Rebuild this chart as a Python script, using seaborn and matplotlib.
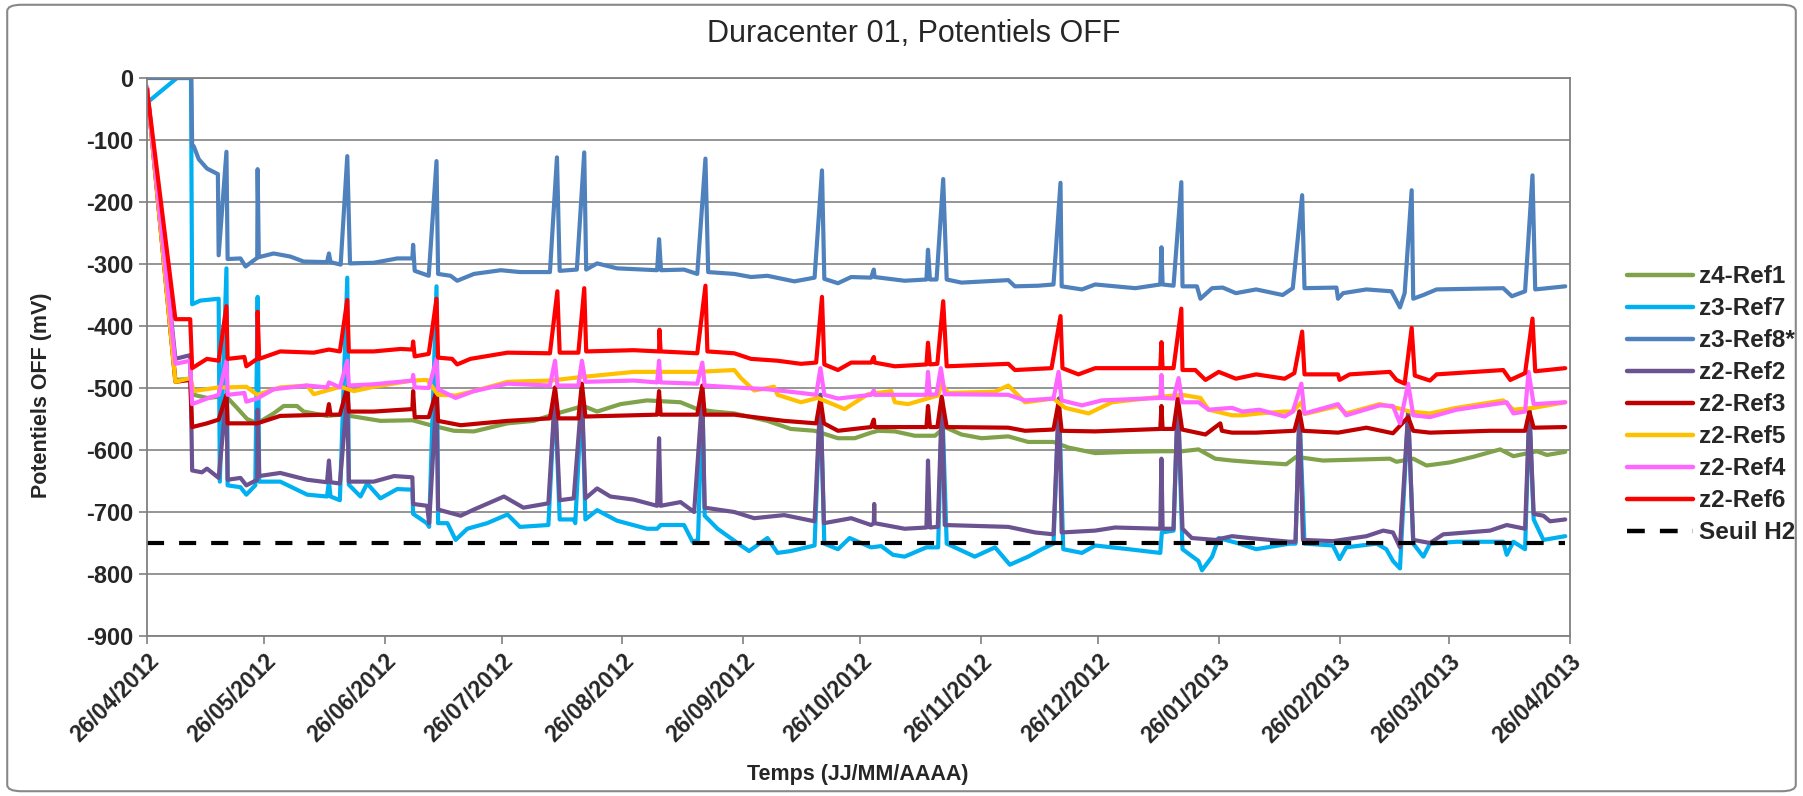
import pandas as pd
import numpy as np
import matplotlib
matplotlib.use('Agg')
import matplotlib.pyplot as plt
import matplotlib.dates as mdates
from matplotlib.lines import Line2D
from matplotlib.patches import FancyBboxPatch
import seaborn as sns

start_date = '2012-04-26'
end_date = '2013-04-26'

# days since 26/04/2012 and OFF potentials (mV)
ref1_days = [0, 7.3, 11.1, 12.0, 15.4, 18.8, 20.7, 23.1, 25.7, 28.3, 32.5, 35.1, 38.5, 40.2, 46.2, 49.7, 53.1, 59.9,
             68.1, 72.8, 78.8, 83.9, 92.5, 99.2, 105.2, 112.0, 115.5, 121.5, 128.3, 136.9, 141.2, 145.5, 150.7, 159.2,
             165.2, 171.3, 177.3, 181.6, 185.8, 187.6, 191.9, 197.0, 202.2, 204.7, 209.0, 214.2, 221.0, 226.1, 232.6,
             236.4, 243.3, 251.9, 260.4, 265.6, 269.8, 274.1, 278.4, 284.6, 292.3, 294.9, 301.7, 318.9, 320.6, 324.9,
             328.3, 334.3, 340.3, 347.2, 350.6, 356.6, 359.2, 363.9]
ref1_mv = [-15, -487, -485, -511, -516, -514, -516, -532, -550, -557, -541, -529, -529, -538, -545, -543, -546, -553,
           -552, -560, -569, -570, -557, -553, -541, -529, -538, -526, -520, -523, -534, -538, -541, -553,
           -566, -569, -581, -581, -572, -569, -570, -577, -577, -563, -575, -581, -578, -587, -587,
           -596, -605, -603, -602, -602, -599, -614, -617, -620, -623, -611, -617, -614, -619, -614,
           -625, -620, -611, -599, -610, -602, -608, -603]

ref7_days = [0, 7.7, 11.3, 11.6, 13.7, 18.4, 18.7, 20.4, 20.7, 24.0, 25.5, 27.8, 28.4, 28.8, 34.2, 41.1, 46.2, 46.7,
             47.1, 49.5, 51.4, 51.8, 54.8, 56.5, 59.9, 64.2, 68.1, 68.3, 71.8, 72.4, 74.3, 74.7, 77.1, 79.2, 82.2,
             87.3, 92.5, 95.7, 103.0, 104.7, 105.9, 109.5, 109.9, 111.6, 112.5, 115.5, 120.6, 128.3, 130.9, 131.8,
             137.8, 140.0, 141.4, 142.5, 143.1, 146.4, 152.4, 154.5, 159.2, 161.8, 165.2, 171.3, 172.8, 173.8, 177.3,
             180.3, 185.8, 188.4, 191.4, 194.4, 200.0, 201.3, 203.0, 204.0, 205.2, 212.4, 217.6, 221.4, 226.1, 229.6,
             232.6, 234.0, 235.1, 239.9, 243.3, 251.9, 260.0, 260.4, 263.4, 264.5, 265.7, 269.8, 270.7, 273.3, 275.0,
             280.3, 284.6, 293.2, 294.7, 295.7, 297.0, 304.3, 306.0, 307.7, 315.5, 318.0, 319.7, 321.5, 323.6, 324.9,
             327.5, 329.2, 336.0, 348.0, 348.9, 350.6, 353.6, 354.7, 355.8, 358.3, 363.9]
ref7_mv = [-40, 0, 0, -365, -359, -356, -651, -307, -657, -660, -672, -657, -353, -651, -651, -672, -675, -651,
           -675, -681, -322, -656, -675, -654, -678, -663, -664, -703, -718, -724, -336, -718, -718, -745, -727,
           -718, -704, -724, -721, -511, -712, -712, -718, -508, -712, -697, -714, -727, -727, -721,
           -721, -748, -745, -511, -706, -727, -754, -763, -742, -766, -763, -754, -511, -751, -760,
           -742, -757, -755, -769, -772, -757, -757, -757, -517, -751, -772, -757, -785, -772, -760,
           -751, -517, -760, -766, -754, -760, -766, -733, -730, -517, -760, -779, -794, -772, -742,
           -751, -760, -751, -751, -538, -751, -754, -776, -757, -751, -760, -779, -791, -538, -751,
           -772, -751, -748, -748, -769, -748, -760, -535, -712, -745, -739]

ref8_days = [0, 11.4, 11.6, 12.0, 13.3, 15.4, 18.2, 18.4, 20.4, 20.7, 24.0, 25.3, 28.3, 28.4, 28.7, 32.5, 36.8,
             40.2, 46.2, 46.7, 47.1, 49.7, 51.4, 52.1, 58.2, 64.2, 68.1, 68.3, 68.7, 72.3, 74.3, 74.7, 77.9, 79.6,
             83.9, 90.8, 95.7, 103.4, 105.2, 105.9, 110.3, 112.2, 112.7, 115.5, 120.6, 130.9, 131.4, 131.9, 137.8,
             141.2, 143.3, 144.0, 150.7, 155.0, 159.2, 166.1, 171.3, 173.2, 173.8, 177.3, 180.7, 185.8, 186.5,
             186.7, 194.4, 200.0, 200.4, 200.9, 202.6, 204.3, 205.2, 209.0, 221.0, 222.7, 228.7, 232.6, 234.4,
             234.7, 239.9, 243.3, 253.6, 260.0, 260.3, 260.6, 263.4, 265.4, 265.7, 269.4, 270.3, 273.3, 276.0,
             279.4, 284.6, 291.4, 294.0, 296.4, 297.0, 305.2, 305.6, 306.9, 312.9, 319.3, 321.5, 322.7, 324.5,
             324.9, 327.5, 330.9, 348.0, 350.2, 353.6, 355.5, 356.2, 363.9]
ref8_mv = [0, 0, -110, -110, -131, -146, -155, -286, -119, -292, -291, -304, -290, -147, -289, -283, -288,
           -296, -297, -283, -297, -301, -126, -299, -298, -291, -291, -269, -311, -319, -134, -316, -319, -327,
           -316, -310, -313, -313, -128, -311, -309, -120, -309, -299, -307, -310, -260, -310, -309,
           -316, -130, -313, -316, -321, -319, -328, -322, -149, -324, -331, -321, -322, -309,
           -321, -327, -325, -277, -325, -325, -163, -325, -330, -326, -336, -335, -333, -169,
           -336, -341, -333, -339, -333, -273, -333, -335, -168, -336, -336, -356, -339, -338,
           -347, -341, -350, -339, -189, -339, -338, -356, -347, -341, -344, -370, -347, -181,
           -356, -350, -341, -339, -352, -344, -157, -341, -336]

ref2_days = [0, 7.3, 11.1, 11.6, 14.1, 15.4, 18.4, 20.4, 20.7, 24.0, 25.5, 28.3, 28.4, 28.8, 34.2, 41.1, 46.2,
             46.7, 47.1, 49.5, 51.4, 51.8, 58.2, 63.4, 68.1, 68.3, 71.9, 72.4, 74.3, 74.7, 80.5, 83.9, 91.6, 96.6,
             103.0, 104.7, 105.9, 109.5, 111.6, 112.5, 115.5, 118.9, 124.9, 130.9, 131.4, 131.8, 136.9, 140.4,
             142.5, 143.1, 150.7, 155.8, 163.5, 171.3, 172.8, 173.7, 180.7, 185.8, 186.5, 186.6, 186.7, 194.4,
             200.0, 200.4, 200.9, 202.9, 204.0, 204.7, 221.0, 227.9, 232.6, 234.0, 234.7, 243.3, 248.4, 260.0,
             260.3, 260.6, 263.4, 264.5, 265.7, 268.1, 274.1, 278.4, 282.9, 293.2, 294.7, 295.7, 296.6, 304.3,
             312.9, 317.2, 319.7, 321.5, 323.6, 324.9, 329.2, 332.6, 344.6, 348.9, 353.6, 354.7, 355.8, 358.3,
             360.0, 363.9]
ref2_mv = [-15, -453, -447, -633, -636, -630, -645, -511, -648, -645, -657, -648, -535, -642, -637, -648, -652,
           -617, -652, -654, -511, -651, -651, -642, -644, -687, -690, -718, -511, -696, -706, -696, -675, -693,
           -686, -511, -681, -678, -508, -678, -662, -675, -680, -690, -581, -690, -684, -700,
           -511, -693, -700, -710, -705, -715, -511, -718, -710, -721, -718, -687, -718, -727,
           -725, -617, -725, -724, -517, -721, -724, -733, -736, -517, -733, -730, -725, -727,
           -614, -727, -727, -517, -727, -742, -745, -739, -742, -748, -748, -538, -745, -747,
           -739, -730, -733, -757, -538, -745, -750, -736, -730, -721, -727, -535, -703, -706,
           -715, -712]

ref3_days = [0, 7.3, 11.1, 11.6, 15.4, 18.4, 20.4, 20.7, 28.3, 34.2, 46.2, 46.7, 47.1, 49.5, 51.4, 51.8, 58.2,
             68.1, 68.3, 68.7, 72.3, 74.3, 74.7, 80.5, 92.5, 103.4, 104.7, 105.6, 110.7, 111.6, 112.5, 130.9,
             131.4, 131.8, 141.2, 142.5, 143.1, 150.7, 163.5, 171.7, 172.8, 173.7, 177.3, 185.8, 186.5, 186.7,
             200.0, 200.4, 200.9, 202.8, 203.9, 205.2, 221.0, 225.3, 232.6, 233.9, 234.7, 243.3, 260.0, 260.3,
             260.6, 263.4, 264.5, 265.6, 271.6, 275.4, 275.8, 278.4, 284.6, 294.4, 295.7, 296.6, 305.6, 312.9,
             319.7, 323.6, 324.9, 329.2, 344.6, 353.6, 354.7, 355.8, 363.9]
ref3_mv = [-15, -490, -487, -563, -557, -551, -511, -557, -557, -545, -543, -526, -543, -543, -499, -538, -538,
           -534, -505, -547, -547, -505, -553, -560, -553, -549, -499, -549, -549, -493, -546, -543,
           -505, -543, -543, -496, -543, -543, -553, -557, -517, -557, -569, -563, -551, -563,
           -563, -529, -563, -563, -514, -563, -564, -569, -567, -523, -569, -570, -566, -529,
           -566, -566, -517, -567, -575, -557, -569, -572, -572, -569, -538, -569, -572, -564,
           -573, -547, -569, -572, -569, -569, -538, -564, -563]

ref5_days = [0, 7.3, 11.1, 12.0, 18.4, 20.7, 25.5, 28.3, 34.2, 41.1, 42.8, 46.2, 49.7, 53.1, 58.2, 68.1, 71.9,
             74.7, 79.2, 83.9, 92.5, 103.4, 112.0, 124.9, 141.2, 150.7, 152.4, 155.8, 160.9, 161.8, 167.8, 172.1,
             179.0, 185.0, 191.0, 191.9, 195.3, 203.0, 203.9, 205.6, 217.6, 221.0, 225.3, 232.6, 235.6, 241.6,
             247.6, 260.4, 265.6, 270.3, 272.4, 278.4, 281.1, 285.4, 291.9, 294.0, 296.2, 297.0, 305.6, 307.7,
             316.3, 320.6, 324.0, 329.2, 336.0, 348.0, 350.6, 355.8, 363.9]
ref5_mv = [-15, -490, -484, -505, -499, -499, -498, -511, -499, -496, -510, -504, -498, -505, -498, -488, -487,
           -511, -512, -505, -490, -488, -482, -474, -474, -471, -484, -504, -498, -511, -523, -516,
           -534, -510, -505, -523, -526, -512, -493, -508, -506, -496, -523, -517, -532, -541,
           -523, -514, -511, -516, -535, -544, -544, -541, -538, -538, -523, -542, -529, -541,
           -526, -532, -538, -541, -532, -520, -535, -532, -523]

ref4_days = [0, 7.3, 11.1, 11.6, 15.4, 18.4, 20.4, 20.7, 25.0, 25.5, 28.3, 32.5, 41.1, 46.2, 46.7, 49.5, 51.4,
             51.8, 58.2, 68.1, 68.3, 68.7, 72.3, 74.3, 74.7, 79.2, 83.9, 92.5, 103.4, 104.7, 105.3, 110.7, 111.6,
             112.5, 124.9, 130.9, 131.4, 131.8, 141.2, 142.5, 143.1, 150.7, 159.2, 167.8, 171.7, 172.8, 173.8,
             177.3, 185.8, 186.5, 186.7, 200.0, 200.4, 200.9, 202.6, 203.7, 204.7, 221.0, 225.3, 232.6, 233.9,
             234.7, 239.9, 245.0, 260.0, 260.3, 260.6, 263.4, 264.7, 265.6, 269.8, 272.4, 278.4, 281.1, 285.4,
             291.9, 294.0, 296.2, 297.0, 305.6, 307.7, 316.3, 319.7, 321.5, 323.6, 324.9, 329.2, 336.0, 348.9,
             350.6, 353.6, 354.5, 355.8, 363.9]
ref4_mv = [-15, -461, -456, -526, -517, -511, -456, -511, -508, -522, -517, -502, -496, -499, -491, -499, -456,
           -496, -494, -488, -479, -499, -500, -453, -502, -516, -505, -493, -496, -456, -496, -496, -456,
           -490, -488, -491, -456, -491, -493, -459, -496, -499, -502, -508, -511, -468, -511,
           -517, -511, -504, -511, -511, -474, -511, -510, -468, -510, -511, -520, -517, -474,
           -520, -528, -520, -516, -479, -516, -517, -484, -523, -523, -535, -532, -538, -535,
           -546, -538, -493, -541, -526, -544, -528, -529, -557, -493, -544, -547, -535, -523,
           -541, -538, -474, -526, -523]

ref6_days = [0, 7.3, 11.1, 11.6, 15.4, 18.4, 20.4, 20.7, 25.0, 25.5, 28.3, 28.4, 28.8, 34.2, 42.8, 46.7, 49.5,
             51.4, 51.8, 58.2, 65.1, 68.1, 68.3, 68.7, 72.3, 74.3, 74.7, 78.3, 79.6, 83.0, 92.5, 103.4, 105.3,
             105.9, 110.7, 112.2, 112.7, 124.9, 131.4, 131.5, 131.8, 141.2, 143.3, 143.8, 150.7, 155.0, 161.8,
             167.8, 171.7, 173.2, 173.8, 177.3, 180.7, 185.8, 186.5, 186.7, 191.9, 200.0, 200.4, 200.9, 202.8,
             204.3, 205.2, 221.0, 222.7, 232.1, 234.4, 234.9, 239.0, 243.3, 260.0, 260.3, 260.6, 263.4, 265.4,
             265.7, 269.0, 271.6, 275.0, 279.4, 284.6, 291.9, 294.4, 296.4, 297.0, 305.6, 306.0, 308.6, 318.9,
             320.6, 322.7, 324.5, 325.3, 329.2, 330.9, 348.0, 349.8, 353.6, 355.5, 356.2, 363.9]
ref6_mv = [-18, -389, -389, -468, -453, -456, -368, -453, -450, -465, -453, -377, -453, -441, -443, -438, -441,
           -358, -441, -441, -437, -438, -425, -449, -445, -356, -451, -453, -462, -453, -443, -444, -344,
           -443, -443, -339, -441, -439, -441, -406, -441, -444, -335, -441, -444, -453, -456,
           -461, -459, -353, -462, -471, -459, -459, -450, -459, -465, -462, -427, -462, -461,
           -360, -465, -461, -471, -468, -384, -468, -478, -468, -468, -426, -468, -468, -372,
           -471, -471, -487, -474, -485, -478, -485, -476, -409, -478, -478, -487, -478, -474,
           -487, -493, -403, -480, -488, -478, -471, -487, -476, -388, -473, -468]

seuil_days = [0, 363.9]
seuil_mv = [-750, -750]

series_names = ['z4-Ref1', 'z3-Ref7', 'z3-Ref8*', 'z2-Ref2', 'z2-Ref3', 'z2-Ref5', 'z2-Ref4', 'z2-Ref6']
series_days = [ref1_days, ref7_days, ref8_days, ref2_days, ref3_days, ref5_days, ref4_days, ref6_days]
series_mv = [ref1_mv, ref7_mv, ref8_mv, ref2_mv, ref3_mv, ref5_mv, ref4_mv, ref6_mv]
colors = ['#7FA24A', '#00B0F0', '#4F81BD', '#6B5290', '#C00000', '#FFC000', '#FF66FF', '#FF0000']

t0 = pd.Timestamp(start_date)
frames = []
for name, d, v in zip(series_names, series_days, series_mv):
    frames.append(pd.DataFrame({'Date': t0 + pd.to_timedelta(d, unit='D'), 'mV': v, 'Serie': name}))
df = pd.concat(frames, ignore_index=True)

sns.set_style('white')
plt.rcParams['font.family'] = ['Liberation Sans', 'DejaVu Sans']
plt.rcParams['axes.unicode_minus'] = False

fig = plt.figure(figsize=(18.03, 7.96), dpi=100)
ax = fig.add_axes([0.0815, 0.201, 0.789, 0.701])

sns.lineplot(data=df, x='Date', y='mV', hue='Serie', hue_order=series_names, palette=colors,
             estimator=None, sort=False, linewidth=3.0, legend=False, ax=ax)
sns.lineplot(x=t0 + pd.to_timedelta(seuil_days, unit='D'), y=seuil_mv, color='black',
             linewidth=3.0, linestyle=(0, (4.1, 3.6)), ax=ax)

ax.set_xlim(pd.Timestamp(start_date), pd.Timestamp(end_date))
ax.set_ylim(-900, 0)
ax.set_yticks(np.arange(-900, 1, 100))
ax.yaxis.grid(True, color='#8C8C8C', linewidth=1.3)
ax.set_axisbelow(True)
ax.xaxis.set_major_locator(mdates.MonthLocator(bymonthday=26))
ax.xaxis.set_major_formatter(mdates.DateFormatter('%d/%m/%Y'))
for sp in ax.spines.values():
    sp.set_color('#808080')
    sp.set_linewidth(1.3)
ax.tick_params(axis='both', which='major', direction='out', length=6, width=1.2, color='#808080', pad=4)
ax.tick_params(axis='y', left=True, labelsize=17)
ax.tick_params(axis='x', bottom=True, labelsize=16.5)
for lab in ax.get_xticklabels():
    lab.set_rotation(45)
    lab.set_ha('right')
    lab.set_rotation_mode('anchor')
    lab.set_fontweight('bold')
for lab in ax.get_yticklabels():
    lab.set_fontweight('bold')
ax.set_xlabel('')
ax.set_ylabel('')

fig.text(0.507, 0.957, 'Duracenter 01, Potentiels OFF', ha='center', va='center', fontsize=22)
fig.text(0.023, 0.503, 'Potentiels OFF (mV)', ha='center', va='center', rotation=90,
         fontsize=15.5, fontweight='bold')
fig.text(0.476, 0.027, 'Temps (JJ/MM/AAAA)', ha='center', va='center', fontsize=15.5, fontweight='bold')

handles = [Line2D([], [], color=c, linewidth=3.2) for c in colors]
handles.append(Line2D([], [], color='black', linewidth=3.2, linestyle=(0, (4.0, 3.4))))
fig.legend(handles, series_names + ['Seuil H2'], loc='upper left', bbox_to_anchor=(0.9024, 0.667),
           frameon=False, prop={'size': 17.5, 'weight': 'bold'}, handlelength=2.72, handletextpad=0.25,
           labelspacing=0.37, borderpad=0, borderaxespad=0)

fig.patches.append(FancyBboxPatch((0.004, 0.006), 0.992, 0.988, boxstyle='round,pad=0,rounding_size=0.008',
                                  transform=fig.transFigure, fill=False, edgecolor='#888888', linewidth=1.5))

fig.savefig('out.png', dpi=100, facecolor='white')
